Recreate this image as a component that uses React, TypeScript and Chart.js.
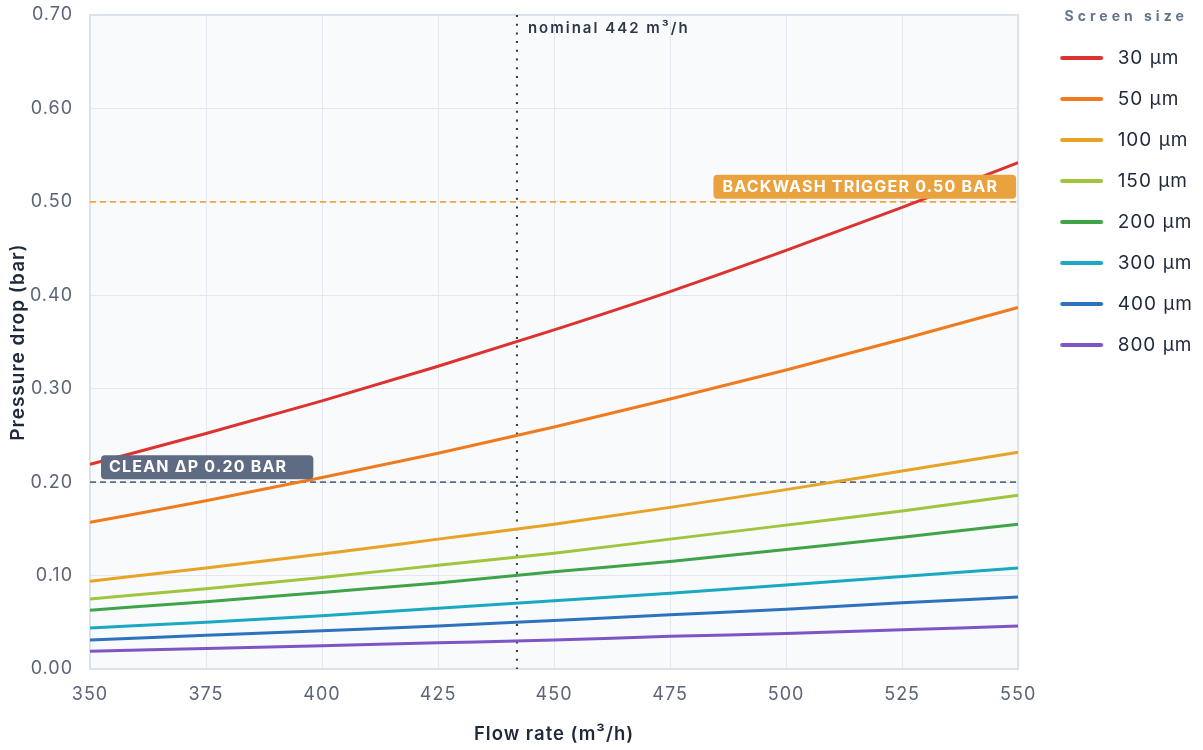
import React, { useEffect, useRef } from 'react';
import { Chart, registerables } from 'chart.js';

Chart.register(...registerables);

// Flow rate (m³/h) sample points
const flowRates = [350, 375, 400, 425, 450, 475, 500, 525, 550];

// Legend labels
const screenSizes = ['30 µm', '50 µm', '100 µm', '150 µm', '200 µm', '300 µm', '400 µm', '800 µm'];

// Pressure drop (bar)
const dp30 = [0.219, 0.252, 0.287, 0.324, 0.363, 0.404, 0.448, 0.494, 0.542];
const dp50 = [0.157, 0.18, 0.205, 0.231, 0.259, 0.289, 0.32, 0.353, 0.387];
const dp100 = [0.094, 0.108, 0.123, 0.139, 0.155, 0.173, 0.192, 0.212, 0.232];
const dp150 = [0.075, 0.086, 0.098, 0.111, 0.124, 0.139, 0.154, 0.169, 0.186];
const dp200 = [0.063, 0.072, 0.082, 0.092, 0.104, 0.115, 0.128, 0.141, 0.155];
const dp300 = [0.044, 0.05, 0.057, 0.065, 0.073, 0.081, 0.09, 0.099, 0.108];
const dp400 = [0.031, 0.036, 0.041, 0.046, 0.052, 0.058, 0.064, 0.071, 0.077];
const dp800 = [0.019, 0.022, 0.025, 0.028, 0.031, 0.035, 0.038, 0.042, 0.046];

const seriesValues = [dp30, dp50, dp100, dp150, dp200, dp300, dp400, dp800];
const seriesColors = ['#dc3330', '#f07b1e', '#e6a326', '#a0c43b', '#3fa348', '#1ba8c2', '#2e72bd', '#7e55c4'];

// Reference markers
const nominalFlow = 442;
const nominalLabel = 'nominal 442 m³/h';
const backwashTrigger = 0.5;
const backwashLabel = 'BACKWASH TRIGGER 0.50 BAR';
const cleanDp = 0.2;
const cleanLabel = 'CLEAN ΔP 0.20 BAR';
const legendTitle = 'Screen size';

const FONT = 'Inter, "Noto Sans", sans-serif';

function makeSwatch(color: string) {
  const c = document.createElement('canvas');
  c.width = 68;
  c.height = 6;
  const g = c.getContext('2d')!;
  g.strokeStyle = color;
  g.lineWidth = 4;
  g.lineCap = 'round';
  g.beginPath();
  g.moveTo(22, 3);
  g.lineTo(61, 3);
  g.stroke();
  return c;
}

const refPlugin = {
  id: 'refPlugin',
  beforeUpdate(chart: any) {
    (chart.ctx as any).letterSpacing = '1px';
  },
  beforeLayout(chart: any) {
    (chart.ctx as any).letterSpacing = '1px';
  },
  beforeDraw(chart: any) {
    const { ctx, chartArea: a } = chart;
    (ctx as any).letterSpacing = '1px';
    ctx.save();
    ctx.fillStyle = '#f8fafc';
    ctx.fillRect(a.left, a.top, a.right - a.left, a.bottom - a.top);
    ctx.restore();
  },
  beforeDatasetsDraw(chart: any) {
    const { ctx, chartArea: a, scales } = chart;
    const x = scales.x;
    const y = scales.y;
    ctx.save();
    // frame
    ctx.strokeStyle = '#dbe2ec';
    ctx.lineWidth = 2;
    ctx.strokeRect(a.left, a.top, a.right - a.left, a.bottom - a.top);
    // horizontal refs
    const yB = y.getPixelForValue(backwashTrigger);
    ctx.setLineDash([6, 4]);
    ctx.lineWidth = 1.6;
    ctx.strokeStyle = '#eea53e';
    ctx.beginPath();
    ctx.moveTo(a.left, yB);
    ctx.lineTo(a.right, yB);
    ctx.stroke();
    const yC = y.getPixelForValue(cleanDp);
    ctx.strokeStyle = '#5f6b82';
    ctx.beginPath();
    ctx.moveTo(a.left, yC);
    ctx.lineTo(a.right, yC);
    ctx.stroke();
    // vertical nominal
    const xN = x.getPixelForValue(nominalFlow);
    ctx.setLineDash([2, 6.7]);
    ctx.lineWidth = 2;
    ctx.strokeStyle = '#2d3748';
    ctx.beginPath();
    ctx.moveTo(xN, a.top);
    ctx.lineTo(xN, a.bottom);
    ctx.stroke();
    ctx.restore();
  },
  afterDatasetsDraw(chart: any) {
    const { ctx, chartArea: a, scales } = chart;
    const x = scales.x;
    const y = scales.y;
    ctx.save();
    ctx.textBaseline = 'middle';
    ctx.textAlign = 'left';
    // nominal label
    const xN = x.getPixelForValue(nominalFlow);
    (ctx as any).letterSpacing = '2px';
    ctx.font = `600 15px ${FONT}`;
    ctx.fillStyle = '#2d3748';
    ctx.fillText(nominalLabel, xN + 11, a.top + 13);

    (ctx as any).letterSpacing = '1.2px';
    ctx.font = `700 16px ${FONT}`;
    // backwash box
    const yB = y.getPixelForValue(backwashTrigger);
    const wB = ctx.measureText(backwashLabel).width;
    const boxWB = wB + 27;
    const bxB = a.right - 2 - boxWB;
    ctx.fillStyle = '#e9a23e';
    ctx.beginPath();
    (ctx as any).roundRect(bxB, yB - 27, boxWB, 24, 4);
    ctx.fill();
    ctx.fillStyle = '#ffffff';
    ctx.fillText(backwashLabel, bxB + 9, yB - 15);

    // clean box
    const yC = y.getPixelForValue(cleanDp);
    const wC = ctx.measureText(cleanLabel).width;
    const boxWC = wC + 34;
    const bxC = a.left + 11;
    ctx.fillStyle = '#5f6b82';
    ctx.beginPath();
    (ctx as any).roundRect(bxC, yC - 27, boxWC, 24, 4);
    ctx.fill();
    ctx.fillStyle = '#ffffff';
    ctx.fillText(cleanLabel, bxC + 8, yC - 15);
    ctx.restore();
  },
  afterDraw(chart: any) {
    const { ctx } = chart;
    const lg = chart.legend;
    if (!lg) return;
    ctx.save();
    (ctx as any).letterSpacing = '4px';
    ctx.font = `700 14px ${FONT}`;
    ctx.fillStyle = '#64748b';
    ctx.textAlign = 'center';
    ctx.textBaseline = 'middle';
    ctx.fillText(legendTitle, lg.left + 108, 17);
    ctx.restore();
  },
};

export default function App() {
  const ref = useRef<HTMLCanvasElement | null>(null);

  useEffect(() => {
    document.body.style.margin = '0';
    const canvas = ref.current;
    if (!canvas) return;
    const swatches = seriesColors.map(makeSwatch);
    const chart = new Chart(canvas, {
      type: 'line',
      data: {
        datasets: seriesValues.map((vals, i) => ({
          label: screenSizes[i],
          data: flowRates.map((f, j) => ({ x: f, y: vals[j] })),
          borderColor: seriesColors[i],
          backgroundColor: seriesColors[i],
          borderWidth: 3,
          pointRadius: 0,
          cubicInterpolationMode: 'monotone' as const,
          fill: false,
        })),
      },
      options: {
        animation: false,
        responsive: true,
        maintainAspectRatio: false,
        layout: { padding: { top: 0, right: 0, bottom: 0, left: 0 } },
        plugins: {
          tooltip: { enabled: false },
          legend: {
            position: 'right',
            align: 'start',
            title: {
              display: true,
              text: legendTitle,
              color: 'rgba(0,0,0,0)',
              font: { family: FONT, size: 14, weight: 'bold' },
              padding: { top: 4, bottom: 5.7 },
            },
            labels: {
              usePointStyle: true,
              pointStyleWidth: 68,
              padding: 22,
              color: '#1e293b',
              font: { family: FONT, size: 19 },
              generateLabels: (ch: any) =>
                ch.data.datasets.map((d: any, i: number) => ({
                  text: d.label,
                  fillStyle: seriesColors[i],
                  strokeStyle: seriesColors[i],
                  lineWidth: 0,
                  pointStyle: swatches[i],
                  hidden: false,
                  datasetIndex: i,
                  fontColor: '#1e293b',
                })),
            },
          },
        },
        scales: {
          x: {
            type: 'linear',
            min: 350,
            max: 550,
            afterFit: (s: any) => {
              s.height = 81;
            },
            ticks: {
              stepSize: 25,
              color: '#5b6577',
              padding: 15,
              font: { family: FONT, size: 18 },
            },
            grid: { color: '#e3e8f0', drawTicks: false },
            border: { display: false },
            title: {
              display: true,
              text: 'Flow rate (m³/h)',
              color: '#1e293b',
              font: { family: FONT, size: 18.5, weight: 600 },
              padding: { top: 0, bottom: 4 },
            },
          },
          y: {
            min: 0,
            max: 0.7,
            afterFit: (s: any) => {
              s.width = 90;
              s.paddingTop = 15;
            },
            ticks: {
              stepSize: 0.1,
              color: '#5b6577',
              padding: 17,
              font: { family: FONT, size: 18 },
              callback: (v: any) => Number(v).toFixed(2),
            },
            grid: { color: '#e3e8f0', drawTicks: false },
            border: { display: false },
            title: {
              display: true,
              text: 'Pressure drop (bar)',
              color: '#1e293b',
              font: { family: FONT, size: 19, weight: 600 },
              padding: { top: 7, bottom: 0 },
            },
          },
        },
      },
      plugins: [refPlugin],
    });
    return () => chart.destroy();
  }, []);

  return (
    <div style={{ width: 1203, height: 750, position: 'relative' }}>
      <canvas ref={ref} />
    </div>
  );
}
